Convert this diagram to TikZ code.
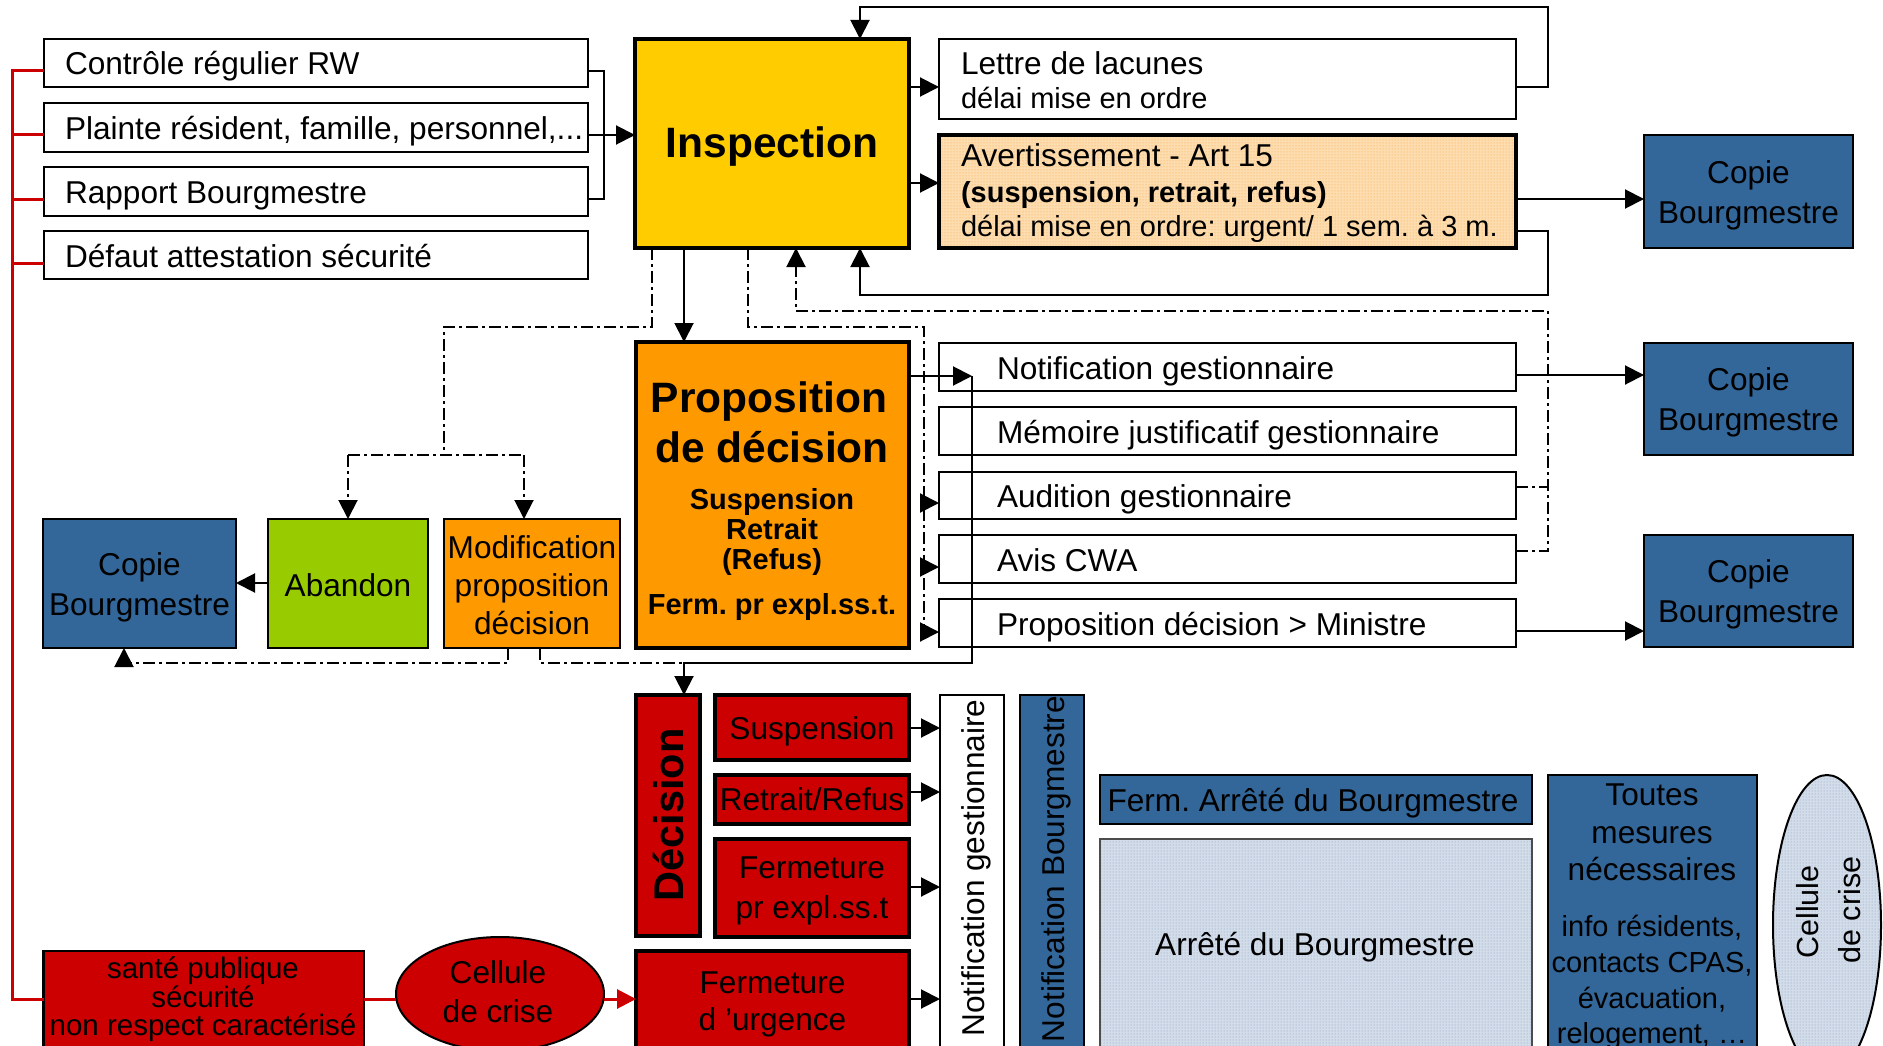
\documentclass[tikz,border=0pt]{standalone}
\usepackage{fontspec}
\setmainfont{Liberation Sans}
\frenchspacing
\usetikzlibrary{arrows.meta,patterns,shapes.geometric}
\definecolor{cgold}{HTML}{FFCC00}
\definecolor{corange}{HTML}{FF9900}
\definecolor{cgreen}{HTML}{99CC00}
\definecolor{cblue}{HTML}{336699}
\definecolor{cred}{HTML}{CC0000}
\definecolor{cpeach}{HTML}{FDDDB0}
\definecolor{cdotor}{HTML}{F7A23A}
\definecolor{cpale}{HTML}{D3DCE9}
\definecolor{cdotbl}{HTML}{7E9CC4}
\newcommand{\fsA}{\fontsize{31.6}{38}\selectfont}
\newcommand{\fsB}{\fontsize{29}{35}\selectfont}
\newcommand{\fsC}{\fontsize{29.5}{35}\selectfont}
\newcommand{\fsH}{\fontsize{42.5}{50}\selectfont\bfseries}
\newcommand{\fsR}{\fontsize{30.5}{36}\selectfont}
\newcommand{\zbox}[6]{\node[#2,anchor=north west,minimum width={(#5)-(#3)},minimum height={(#6)-(#4)}] (#1) at (#3,#4) {};}
\begin{document}
\begin{tikzpicture}[x=1pt,y=-1pt,
 every node/.style={inner sep=0pt,outer sep=0pt},
 ln/.style={line width=2pt,draw=black},
 arw/.style={line width=2pt,draw=black,-{Triangle[length=19pt,width=19pt]}},
 dd/.style={line width=2pt,draw=black,dash pattern=on 12pt off 4pt on 3pt off 4pt},
 ddarw/.style={dd,-{Triangle[length=19pt,width=19pt]}},
 redl/.style={line width=3pt,draw=cred},
 redarw/.style={line width=3pt,draw=cred,-{Triangle[length=19pt,width=19pt]},fill=cred},
 wbox/.style={draw=black,line width=2pt,fill=white},
 kbox/.style={draw=black,line width=4pt},
 bbox/.style={draw=black,line width=1.5pt,fill=cblue},
 txt/.style={font=\fsA},
 sub/.style={font=\fsB}]
\path[use as bounding box] (0,0) rectangle (1883,1046);
\fill[white] (0,0) rectangle (1883,1046);
\clip (0,0) rectangle (1883,1046);

% ---------- input boxes
\zbox{in1}{wbox}{44}{39}{588}{87}
\zbox{in2}{wbox}{44}{103}{588}{152}
\zbox{in3}{wbox}{44}{167}{588}{216}
\zbox{in4}{wbox}{44}{231}{588}{279}
\node[txt,anchor=base west] (tin1) at (65,75) {Contrôle régulier RW};
\node[txt,anchor=base west] (tin2) at (65,140) {Plainte résident, famille, personnel,...};
\node[txt,anchor=base west] (tin3) at (65,204) {Rapport Bourgmestre};
\node[txt,anchor=base west] (tin4) at (65,267) {Défaut attestation sécurité};

% ---------- inspection
\zbox{insp}{kbox,fill=cgold}{635}{39}{909}{248}
\node[font=\fsH,anchor=base] (tinsp) at (772,158) {Inspection};

\zbox{lettre}{wbox}{939}{39}{1516}{119}
\node[txt,anchor=base west] (tl1) at (961,74.5) {Lettre de lacunes};
\node[sub,anchor=base west] (tl2) at (961,109) {délai mise en ordre};

\zbox{avert}{kbox,preaction={fill=cpeach},pattern=dots,pattern color=cdotor}{939}{135}{1516}{248}
\node[txt,anchor=base west] (ta1) at (961,167) {Avertissement - Art 15};
\node[sub,anchor=base west,font=\fsB\bfseries] (ta2) at (961,203) {(suspension, retrait, refus)};
\node[sub,anchor=base west] (ta3) at (961,236) {délai mise en ordre: urgent/ 1 sem. à 3 m.};

\zbox{cop1}{bbox}{1644}{135}{1853}{248}
\node[txt,anchor=base] (tc1a) at (1748.5,183) {Copie};
\node[txt,anchor=base] (tc1b) at (1748.5,223) {Bourgmestre};

% ---------- proposition
\zbox{prop}{kbox,fill=corange}{636}{342}{909}{648}
\node[font=\fsH,anchor=base] (tp1) at (769,412) {Proposition};
\node[font=\fsH,anchor=base] (tp2) at (772,462) {de décision};
\node[font=\fsB\bfseries,anchor=base] (tp3) at (772,509) {Suspension};
\node[font=\fsB\bfseries,anchor=base] (tp4) at (772,539) {Retrait};
\node[font=\fsB\bfseries,anchor=base] (tp5) at (772,569) {(Refus)};
\node[font=\fsB\bfseries,anchor=base] (tp6) at (772,614) {Ferm. pr expl.ss.t.};

% ---------- right list
\zbox{r1}{wbox}{939}{343}{1516}{391}
\zbox{r2}{wbox}{939}{407}{1516}{455}
\zbox{r3}{wbox}{939}{472}{1516}{519}
\zbox{r4}{wbox}{939}{535}{1516}{583}
\zbox{r5}{wbox}{939}{599}{1516}{647}
\node[txt,anchor=base west] (tr1) at (997,379) {Notification gestionnaire};
\node[txt,anchor=base west] (tr2) at (997,443) {Mémoire justificatif gestionnaire};
\node[txt,anchor=base west] (tr3) at (997,507) {Audition gestionnaire};
\node[txt,anchor=base west] (tr4) at (997,571) {Avis CWA};
\node[txt,anchor=base west] (tr5) at (997,635) {Proposition décision > Ministre};

\zbox{cop2}{bbox}{1644}{343}{1853}{455}
\node[txt,anchor=base] (tc2a) at (1748.5,390) {Copie};
\node[txt,anchor=base] (tc2b) at (1748.5,430) {Bourgmestre};
\zbox{cop3}{bbox}{1644}{535}{1853}{647}
\node[txt,anchor=base] (tc3a) at (1748.5,582) {Copie};
\node[txt,anchor=base] (tc3b) at (1748.5,622) {Bourgmestre};

% ---------- left alternatives
\zbox{copL}{bbox}{43}{519}{236}{648}
\node[txt,anchor=base] (tcLa) at (139.5,575) {Copie};
\node[txt,anchor=base] (tcLb) at (139.5,615) {Bourgmestre};
\zbox{aband}{draw=black,line width=2pt,fill=cgreen}{268}{519}{428}{648}
\node[txt,anchor=base] (tab) at (348,596) {Abandon};
\zbox{modif}{draw=black,line width=2pt,fill=corange}{444}{519}{620}{648}
\node[txt,anchor=base] (tm1) at (532,558) {Modification};
\node[txt,anchor=base] (tm2) at (532,596) {proposition};
\node[txt,anchor=base] (tm3) at (532,634) {décision};

% ---------- decision block
\zbox{dec}{kbox,fill=cred}{636}{695}{700}{936}
\node[font=\fontsize{41.5}{48}\selectfont\bfseries,rotate=90,anchor=base] (tdec) at (683,815) {Décision};
\zbox{susp}{kbox,fill=cred}{715}{695}{909}{760}
\node[txt,anchor=base] (tsu) at (812,739) {Suspension};
\zbox{retr}{kbox,fill=cred}{715}{775}{909}{824}
\node[txt,anchor=base] (tre) at (812,810) {Retrait/Refus};
\zbox{fpe}{kbox,fill=cred}{715}{839}{909}{937}
\node[txt,anchor=base] (tf1) at (812,878) {Fermeture};
\node[txt,anchor=base] (tf2) at (812,918) {pr expl.ss.t};
\zbox{furg}{kbox,fill=cred}{636}{951}{909}{1075}
\node[txt,anchor=base] (tu1) at (772.5,993) {Fermeture};
\node[txt,anchor=base] (tu2) at (772.5,1030) {d ’urgence};

\zbox{ngest}{wbox}{940}{695}{1004}{1075}
\node[txt,rotate=90,anchor=base] (tng) at (984,868) {Notification gestionnaire};
\zbox{nbourg}{bbox}{1020}{695}{1084}{1075}
\node[txt,rotate=90,anchor=base] (tnb) at (1064,869) {Notification Bourgmestre};

\zbox{ferma}{bbox}{1100}{775}{1532}{824}
\node[txt,anchor=base] (tfa) at (1313,811) {Ferm. Arrêté du Bourgmestre};
\zbox{arrete}{draw=black!70,line width=1.5pt,preaction={fill=cpale},pattern=dots,pattern color=cdotbl}{1100}{839}{1532}{1075}
\node[txt,anchor=base] (tar) at (1315,955) {Arrêté du Bourgmestre};

\zbox{toutes}{bbox}{1548}{775}{1757}{1075}
\node[txt,anchor=base] (tt1) at (1652,805) {Toutes};
\node[txt,anchor=base] (tt2) at (1652,843) {mesures};
\node[txt,anchor=base] (tt3) at (1652,880) {nécessaires};
\node[sub,anchor=base] (tt4) at (1652,936) {info résidents,};
\node[sub,anchor=base] (tt5) at (1652,972) {contacts CPAS,};
\node[sub,anchor=base] (tt6) at (1652,1008) {évacuation,};
\node[sub,anchor=base] (tt7) at (1652,1043) {relogement, …};

\node[ellipse,draw=black,line width=2pt,preaction={fill=cpale},pattern=dots,pattern color=cdotbl,minimum width=108,minimum height=300] (cellR) at (1827,925) {};
\node[font=\fsR,rotate=90,anchor=base] (tcr1) at (1818,912) {Cellule};
\node[font=\fsR,rotate=90,anchor=base] (tcr2) at (1860,910) {de crise};

% ---------- emergency path
\zbox{sante}{draw=black,line width=2.5pt,fill=cred}{43.5}{951}{364}{1075}
\node[font=\fsC,anchor=base] (ts1) at (203,978) {santé publique};
\node[font=\fsC,anchor=base] (ts2) at (203,1007) {sécurité};
\node[font=\fsC,anchor=base] (ts3) at (203,1035) {non respect caractérisé};
\node[ellipse,draw=black,line width=2pt,fill=cred,minimum width=208,minimum height=114] (cellL) at (500,994) {};
\node[txt,anchor=base] (tcl1) at (498,983) {Cellule};
\node[txt,anchor=base] (tcl2) at (498,1022) {de crise};

% ---------- connectors: inputs
\draw[ln] (in1.east |- 0,71) -| (604,199) -- (in3.east |- 0,199);
\draw[arw] (in2.east |- 0,135) -- (insp.west |- 0,135);
\draw[redl] (in1.west |- 0,71) -| (12,999) -- (sante.west |- 0,999);
\draw[redl] (12,135) -- (in2.west |- 0,135);
\draw[redl] (12,199) -- (in3.west |- 0,199);
\draw[redl] (12,263) -- (in4.west |- 0,263);

% inspection outputs
\draw[arw] (insp.east |- 0,87) -- (lettre.west |- 0,87);
\draw[arw] (insp.east |- 0,183) -- (avert.west |- 0,183);
\draw[arw] (lettre.east |- 0,87) -- (1548,87) |- (860,7) -- (insp.north -| 860,0);
\draw[arw] (avert.east |- 0,231) -- (1548,231) |- (860,295) -- (insp.south -| 860,0);
\draw[arw] (avert.east |- 0,199) -- (cop1.west |- 0,199);
\draw[arw] (insp.south -| 684,0) -- (prop.north -| 684,0);

% dash-dot branches
\draw[dd] (insp.south -| 652,0) |- (444,327) -- (444,455);
\draw[dd] (348,455) -- (524,455);
\draw[ddarw] (348,455) -- (aband.north -| 348,0);
\draw[ddarw] (524,455) -- (modif.north -| 524,0);
\draw[dd] (insp.south -| 748,0) |- (924,327) -- (924,632);
\draw[arw] (921,503) -- (r3.west |- 0,503);
\draw[arw] (921,567) -- (r4.west |- 0,567);
\draw[arw] (921,632) -- (r5.west |- 0,632);
\draw[dd] (r3.east |- 0,487) -- (1548,487);
\draw[ddarw] (r4.east |- 0,551) -| (1548,311) -| (insp.south -| 796,0);
\draw[ddarw] (modif.south -| 508,0) |- (124,663) -- (copL.south -| 124,0);
\draw[dd] (modif.south -| 540,0) |- (684,663);

% proposition outputs
\coordinate (nj) at (972,376);
\draw[arw] (prop.east |- nj) -- (nj);
\draw[arw] (nj) |- (684,663) -- (dec.north -| 684,0);
\draw[arw] (r1.east |- 0,375) -- (cop2.west |- 0,375);
\draw[arw] (r5.east |- 0,631) -- (cop3.west |- 0,631);
\draw[arw] (aband.west |- 0,583) -- (copL.east |- 0,583);

% decision outputs
\draw[arw] (susp.east |- 0,728) -- (ngest.west |- 0,728);
\draw[arw] (retr.east |- 0,792) -- (ngest.west |- 0,792);
\draw[arw] (fpe.east |- 0,887) -- (ngest.west |- 0,887);
\draw[arw] (furg.east |- 0,999) -- (ngest.west |- 0,999);

% emergency
\draw[redl] (sante.east |- 0,999) -- (cellL.west |- 0,999);
\draw[redarw] (cellL.east |- 0,999) -- (furg.west |- 0,999);
\end{tikzpicture}
\end{document}
